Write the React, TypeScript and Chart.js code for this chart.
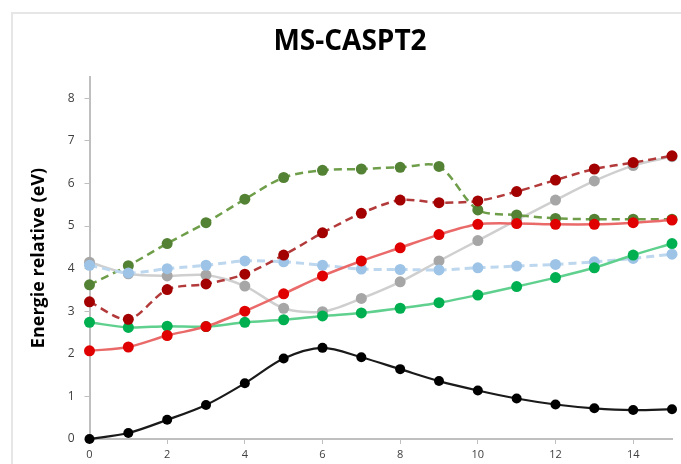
import React, { useEffect, useRef } from "react";
import { Chart, registerables } from "chart.js";

Chart.register(...registerables);

const xValues = [0, 1, 2, 3, 4, 5, 6, 7, 8, 9, 10, 11, 12, 13, 14, 15];
const blackSeries = [0, 0.14, 0.45, 0.8, 1.31, 1.89, 2.14, 1.92, 1.64, 1.36, 1.14, 0.95, 0.81, 0.72, 0.68, 0.7];
const redSeries = [2.07, 2.16, 2.43, 2.64, 3.0, 3.41, 3.83, 4.18, 4.49, 4.8, 5.04, 5.06, 5.04, 5.04, 5.08, 5.14];
const greenSeries = [2.74, 2.62, 2.65, 2.64, 2.74, 2.8, 2.89, 2.96, 3.07, 3.2, 3.38, 3.58, 3.79, 4.02, 4.32, 4.59];
const graySeries = [4.15, 3.88, 3.83, 3.85, 3.59, 3.07, 2.99, 3.3, 3.69, 4.18, 4.66, 5.14, 5.61, 6.06, 6.42, 6.63];
const blueSeries = [4.08, 3.9, 4.0, 4.08, 4.18, 4.16, 4.08, 3.99, 3.98, 3.97, 4.02, 4.06, 4.1, 4.16, 4.24, 4.34];
const darkGreenSeries = [3.62, 4.07, 4.59, 5.08, 5.63, 6.14, 6.31, 6.34, 6.38, 6.4, 5.38, 5.26, 5.18, 5.16, 5.16, 5.16];
const darkRedSeries = [3.22, 2.81, 3.51, 3.64, 3.87, 4.32, 4.84, 5.3, 5.61, 5.55, 5.59, 5.81, 6.08, 6.34, 6.49, 6.65];

const titleText = "MS-CASPT2";
const yTitleText = "Energie relative (eV)";

const FONT = "'Open Sans', 'DejaVu Sans', sans-serif";

function pts(values: number[]) {
  return values.map((v, i) => ({ x: xValues[i], y: v }));
}

function ds(values: number[], line: string, point: string, dashed: boolean, width = 2.5, radius = 5.5) {
  return {
    data: pts(values),
    borderColor: line,
    backgroundColor: point,
    pointBackgroundColor: point,
    pointBorderColor: point,
    pointBorderWidth: 0,
    pointRadius: radius,
    borderWidth: width,
    borderDash: dashed ? [8, 5] : [],
    tension: 0.3,
    clip: false as const,
    fill: false,
  };
}

export default function App() {
  const ref = useRef<HTMLCanvasElement | null>(null);
  useEffect(() => {
    if (!ref.current) return;
    const chart = new Chart(ref.current, {
      type: "line",
      data: {
        datasets: [
          ds(darkRedSeries, "#b33a3a", "#a30000", true),
          ds(redSeries, "#ea6a6a", "#e00000", false),
          ds(blackSeries, "#1a1a1a", "#000000", false, 2.2, 5),
          ds(greenSeries, "#5fd08e", "#00b050", false),
          ds(blueSeries, "#bdd7ee", "#9dc3e6", true, 3),
          ds(darkGreenSeries, "#6f9e4a", "#548235", true),
          ds(graySeries, "#cfcfcf", "#a6a6a6", false),
        ] as any,
      },
      options: {
        animation: false,
        responsive: false,
        devicePixelRatio: 1,
        layout: { padding: { left: 28, right: 9, top: 0, bottom: 0 } },
        plugins: {
          legend: { display: false },
          tooltip: { enabled: false },
          title: {
            display: true,
            text: titleText,
            color: "#000000",
            font: { family: FONT, size: 28, weight: "bold" },
            padding: { top: 25, bottom: 18.4 },
          },
        },
        scales: {
          x: {
            type: "linear",
            min: 0,
            max: 15,
            afterFit: (s: any) => {
              s.height = 25;
            },
            border: { display: true, color: "#bfbfbf", width: 2 },
            grid: { display: true, drawOnChartArea: false, drawTicks: true, tickLength: 5, color: "#bfbfbf" },
            ticks: {
              stepSize: 2,
              includeBounds: false,
              padding: 4,
              color: "#404040",
              font: { family: FONT, size: 11 },
              maxRotation: 0,
            },
          },
          y: {
            type: "linear",
            min: 0,
            max: 8.5,
            afterFit: (s: any) => {
              s.width = 61.5;
            },
            border: { display: true, color: "#bfbfbf", width: 2 },
            grid: { display: true, drawOnChartArea: false, drawTicks: true, tickLength: 5, color: "#bfbfbf" },
            ticks: {
              stepSize: 1,
              includeBounds: false,
              padding: 10,
              color: "#404040",
              font: { family: FONT, size: 12 },
            },
            title: {
              display: true,
              text: yTitleText,
              color: "#000000",
              font: { family: FONT, size: 18, weight: "bold" },
              padding: { top: 0, bottom: 0 },
            },
          },
        },
      },
    });
    return () => chart.destroy();
  }, []);
  return (
    <div style={{ position: "absolute", left: 0, top: 0, width: 681, height: 464, background: "#ffffff", overflow: "hidden" }}>
      <div
        style={{
          position: "absolute",
          left: 11,
          top: 12,
          width: 700,
          height: 480,
          borderLeft: "2px solid #e6e6e6",
          borderTop: "2px solid #e6e6e6",
          pointerEvents: "none",
        }}
      />
      <canvas ref={ref} width={681} height={464} style={{ position: "absolute", left: 0, top: 0 }} />
    </div>
  );
}
